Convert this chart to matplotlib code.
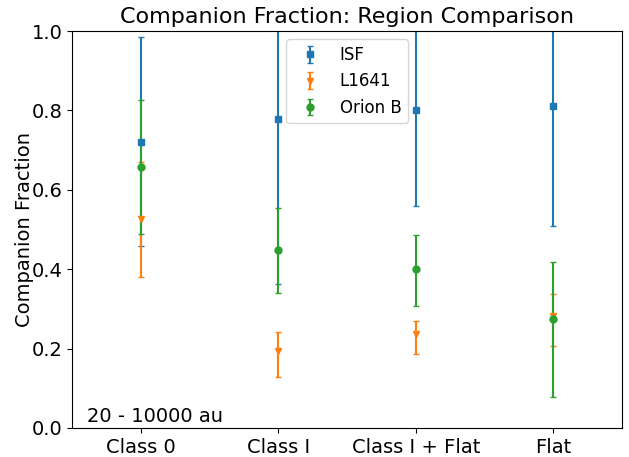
import matplotlib
matplotlib.use("Agg")
import matplotlib.pyplot as plt
import numpy as np

classes = ["Class 0", "Class I", "Class I + Flat", "Flat"]

# companion fractions with lower / upper bounds of the error bars
isf = [0.721, 0.778, 0.800, 0.812]
isf_lo = [0.459, 0.362, 0.560, 0.509]
isf_hi = [0.985, 1.10, 1.10, 1.10]

l1641 = [0.527, 0.194, 0.236, 0.282]
l1641_lo = [0.381, 0.128, 0.186, 0.206]
l1641_hi = [0.671, 0.241, 0.270, 0.338]

orionb = [0.658, 0.448, 0.400, 0.274]
orionb_lo = [0.488, 0.339, 0.308, 0.077]
orionb_hi = [0.826, 0.553, 0.485, 0.418]

x = np.arange(len(classes))


def yerr(val, lo, hi):
    val, lo, hi = map(np.array, (val, lo, hi))
    return [val - lo, hi - val]


fig = plt.figure(figsize=(6.29, 4.57), dpi=100)
ax = fig.add_axes([0.1145, 0.0635, 0.8745, 0.8685])

ax.errorbar(x, isf, yerr=yerr(isf, isf_lo, isf_hi), fmt="s", ms=5,
            capsize=2, color="tab:blue", label="ISF")
ax.errorbar(x, l1641, yerr=yerr(l1641, l1641_lo, l1641_hi), fmt="v", ms=5,
            capsize=2, color="tab:orange", label="L1641")
ax.errorbar(x, orionb, yerr=yerr(orionb, orionb_lo, orionb_hi), fmt="o", ms=5,
            capsize=2, color="tab:green", label="Orion B")

ax.set_xlim(-0.5, 3.5)
ax.set_ylim(0, 1)
ax.set_xticks(x)
ax.set_xticklabels(classes, fontsize=14)
ax.tick_params(axis="y", labelsize=14)
ax.set_ylabel("Companion Fraction", fontsize=14, labelpad=-1.5)
ax.set_title("Companion Fraction: Region Comparison", fontsize=16)
ax.text(0.027, 0.005, "20 - 10000 au", transform=ax.transAxes, fontsize=14,
        va="bottom")
ax.legend(loc="upper center", fontsize=12)

plt.savefig("out.png")
